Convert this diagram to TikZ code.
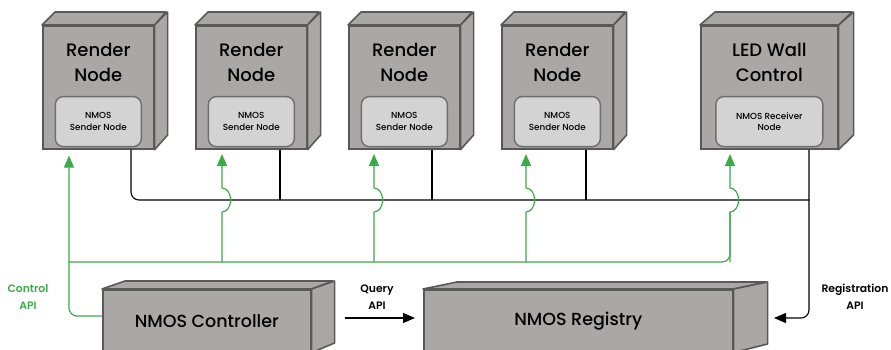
\documentclass[tikz,border=0pt]{standalone}
\usepackage{fontspec}
\setmainfont{Poppins}
\IfFontExistsTF{Poppins Medium}{\newfontfamily\medfont{Poppins Medium}}{\newfontfamily\medfont{Poppins}}
\IfFontExistsTF{Poppins SemiBold}{\newfontfamily\semifont{Poppins SemiBold}}{\newfontfamily\semifont{Poppins}[FakeBold=0]\let\semifont\bfseries}
\usetikzlibrary{arrows.meta,calc}
\definecolor{boxfill}{HTML}{ABA7A6}
\definecolor{boxline}{HTML}{595959}
\definecolor{innerfill}{HTML}{D4D3D3}
\definecolor{innerline}{HTML}{6E6E6E}
\definecolor{ctlgreen}{HTML}{3DAA4A}
\begin{document}
\begin{tikzpicture}[x=1pt,y=-1pt,
  front/.style={draw=boxline, fill=boxfill, line width=1.6pt, inner sep=0pt, anchor=north west},
  face/.style={draw=boxline, fill=boxfill, line width=1.6pt, line join=round},
  innerbox/.style={draw=innerline, fill=innerfill, line width=1.4pt, rounded corners=8pt,
    minimum width=86pt, minimum height=50pt, align=center, inner sep=1pt,
    font=\medfont\fontsize{8.8}{11.5}\selectfont},
  title/.style={align=center, font=\medfont\fontsize{18}{25}\selectfont},
  big/.style={font=\medfont\fontsize{17.5}{21}\selectfont},
  bus/.style={draw=black, line width=1.1pt, rounded corners=8pt},
  ctl/.style={draw=ctlgreen, line width=1.2pt, rounded corners=8pt},
  tip/.style={-{Triangle[length=12pt,width=10pt]}},
  lbl/.style={align=center, font=\semifont\fontsize{10.8}{17}\selectfont}
]
\clip (0,0) rectangle (891,350);
\fill[white] (0,0) rectangle (891,350);

% render nodes
\foreach \i/\x in {1/42,2/195,3/348,4/501} {
  \node[front, minimum width=111pt, minimum height=123pt] (r\i) at (\x,25) {};
  \draw[face] (r\i.north west) -- ++(13,-13) -- ++(111,0) -- (r\i.north east) -- cycle;
  \draw[face] (r\i.north east) -- ++(13,-13) -- ++(0,123) -- (r\i.south east) -- cycle;
  \node[title] (t\i) at ($(r\i.north)+(0,37)$) {Render\\Node};
  \node[innerbox] (s\i) at ($(r\i.south)+(0,-28)$) {NMOS\\Sender Node};
}
% LED wall control
\node[front, minimum width=137pt, minimum height=123pt] (led) at (700,25) {};
\draw[face] (led.north west) -- ++(15,-13) -- ++(137,0) -- (led.north east) -- cycle;
\draw[face] (led.north east) -- ++(15,-13) -- ++(0,123) -- (led.south east) -- cycle;
\node[title] (tl) at ($(led.north)+(0,37)$) {LED Wall\\Control};
\node[innerbox, minimum width=107pt] (sl) at ($(led.south)+(0,-28)$) {NMOS Receiver\\Node};

% controller
\node[front, big, minimum width=208pt, minimum height=62pt] (ctrl) at (102,289) {NMOS Controller};
\draw[face] (ctrl.north west) -- ++(23,-8) -- ++(208,0) -- (ctrl.north east) -- cycle;
\draw[face] (ctrl.north east) -- ++(23,-8) -- ++(0,62) -- (ctrl.south east) -- cycle;

% registry
\node[front, big, minimum width=309pt, minimum height=62pt] (reg) at (423,289) {NMOS Registry};
\draw[face] (reg.north west) -- ++(34,-7) -- ++(309,0) -- (reg.north east) -- cycle;
\draw[face] (reg.north east) -- ++(34,-7) -- ++(0,62) -- (reg.south east) -- cycle;

% coordinates
\coordinate (busend) at (809,200);
\coordinate (regin) at (774,318);
\coordinate (ctlin) at (102,316);

% black bus
\draw[bus] ([xshift=89pt]r1.south west) |- (busend);
\draw[bus] ([xshift=85pt]r2.south west) coordinate (d2) -- (d2 |- busend);
\draw[bus] ([xshift=84pt]r3.south west) coordinate (d3) -- (d3 |- busend);
\draw[bus] ([xshift=85pt]r4.south west) coordinate (d4) -- (d4 |- busend);
\draw[bus, tip] ([xshift=109pt]led.south west) |- (regin);

% query api
\draw[line width=1.1pt, tip] ([xshift=33pt]ctrl.east |- regin) -- ([xshift=-8pt]reg.west |- regin);

% green control lines
\draw[ctl, tip] (ctlin) -| ([xshift=27pt,yshift=-6pt]r1.south west);
\draw[ctl] (69,262) -| (730,212);
\foreach \n/\x in {2/222,3/374,4/526,5/730} {
  \draw[ctl, sharp corners, tip] (\x,262) -- (\x,212)
    .. controls (\x+4,212) and (\x+8.5,208) .. (\x+8.5,200)
    .. controls (\x+8.5,192) and (\x+4,188) .. (\x,188) -- (\x,154) coordinate (a\n);
}

% labels
\node[lbl, text=ctlgreen] (lc) at (28,297) {Control\\API};
\node[lbl] (lq) at (377,297) {Query\\API};
\node[lbl] (lr) at (855,297) {Registration\\API};
\end{tikzpicture}
\end{document}
